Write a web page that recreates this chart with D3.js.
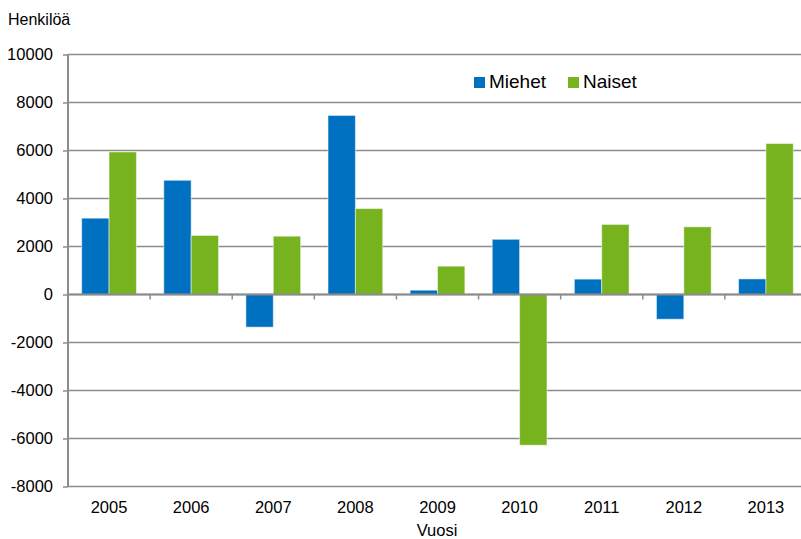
<!DOCTYPE html>
<html>
<head>
<meta charset="utf-8">
<script src="https://cdn.jsdelivr.net/npm/d3@7"></script>
<style>
  body { margin: 0; background: #fff; }
  text { font-family: "Liberation Sans", Arial, sans-serif; fill: #000; }
</style>
</head>
<body>
<script>
// data
const years = ['2005', '2006', '2007', '2008', '2009', '2010', '2011', '2012', '2013'];
const seriesNames = ['Miehet', 'Naiset'];
const miehet = [3180, 4760, -1360, 7460, 180, 2300, 640, -1030, 650];
const naiset = [5940, 2460, 2430, 3580, 1180, -6280, 2920, 2820, 6290];
const yTicks = [10000, 8000, 6000, 4000, 2000, 0, -2000, -4000, -6000, -8000];
const colors = ['#0070C0', '#77B21F'];

const W = 801, H = 539;
const plot = { left: 68, right: 807, top: 54.5, bottom: 486.5 };

const rows = years.map((y, i) => ({ year: y, values: [miehet[i], naiset[i]] }));

const svg = d3.select('body').append('svg')
    .attr('width', W)
    .attr('height', H);

const x0 = d3.scaleBand()
    .domain(years)
    .range([plot.left, plot.right])
    .paddingInner(1 / 3)
    .paddingOuter(1 / 6);

const x1 = d3.scaleBand()
    .domain([0, 1])
    .range([0, x0.bandwidth()]);

const y = d3.scaleLinear()
    .domain([-8000, 10000])
    .range([plot.bottom, plot.top]);

// y ticks (plain hyphen for negatives, like the original)
const yAxis = d3.axisLeft(y)
    .tickValues(yTicks)
    .tickSize(5)
    .tickPadding(10)
    .tickFormat(d => String(d));

const yg = svg.append('g')
    .attr('transform', `translate(${plot.left},0)`)
    .call(yAxis);
yg.select('.domain').remove();
yg.selectAll('.tick line').attr('stroke', '#8c8c8c').attr('stroke-width', 1.5);
yg.selectAll('.tick text').style('font-size', '16.5px');

// gridlines
svg.append('g')
    .selectAll('line')
    .data(yTicks)
    .join('line')
    .attr('x1', plot.left)
    .attr('x2', plot.right)
    .attr('y1', d => y(d))
    .attr('y2', d => y(d))
    .attr('stroke', '#8c8c8c')
    .attr('stroke-width', 1.5);

// bars
const groups = svg.append('g')
    .selectAll('g')
    .data(rows)
    .join('g')
    .attr('transform', d => `translate(${x0(d.year)},0)`);

groups.selectAll('rect')
    .data(d => d.values.map((v, i) => ({ v, i })))
    .join('rect')
    .attr('x', d => x1(d.i))
    .attr('width', x1.bandwidth())
    .attr('y', d => y(Math.max(0, d.v)))
    .attr('height', d => Math.abs(y(d.v) - y(0)))
    .attr('fill', d => colors[d.i])
    .attr('stroke', 'rgba(255,255,255,0.5)')
    .attr('stroke-width', 1);

// zero line and category ticks
svg.append('line')
    .attr('x1', plot.left)
    .attr('x2', plot.right)
    .attr('y1', y(0))
    .attr('y2', y(0))
    .attr('stroke', '#8c8c8c')
    .attr('stroke-width', 2);

const step = x0.step();
svg.append('g')
    .selectAll('line')
    .data(years.slice(1))
    .join('line')
    .attr('x1', d => x0(d) - step / 6)
    .attr('x2', d => x0(d) - step / 6)
    .attr('y1', y(0))
    .attr('y2', y(0) + 5)
    .attr('stroke', '#8c8c8c')
    .attr('stroke-width', 1.5);

// y axis line
svg.append('line')
    .attr('x1', plot.left)
    .attr('x2', plot.left)
    .attr('y1', plot.top)
    .attr('y2', plot.bottom)
    .attr('stroke', '#8c8c8c')
    .attr('stroke-width', 2);

// x labels
svg.append('g')
    .selectAll('text')
    .data(years)
    .join('text')
    .attr('x', d => x0(d) + x0.bandwidth() / 2)
    .attr('y', 513)
    .attr('text-anchor', 'middle')
    .style('font-size', '16.5px')
    .text(d => d);

// axis titles
svg.append('text')
    .attr('x', 8)
    .attr('y', 25)
    .style('font-size', '16px')
    .text('Henkilöä');

svg.append('text')
    .attr('x', 437)
    .attr('y', 536)
    .attr('text-anchor', 'middle')
    .style('font-size', '16.5px')
    .text('Vuosi');

// legend
const legendX = [474, 568];
const legend = svg.append('g')
    .selectAll('g')
    .data(seriesNames)
    .join('g')
    .attr('transform', (d, i) => `translate(${legendX[i]},77)`);

legend.append('rect')
    .attr('width', 11)
    .attr('height', 11)
    .attr('fill', (d, i) => colors[i]);

legend.append('text')
    .attr('x', 15)
    .attr('y', 11)
    .style('font-size', '19px')
    .text(d => d);
</script>
</body>
</html>
